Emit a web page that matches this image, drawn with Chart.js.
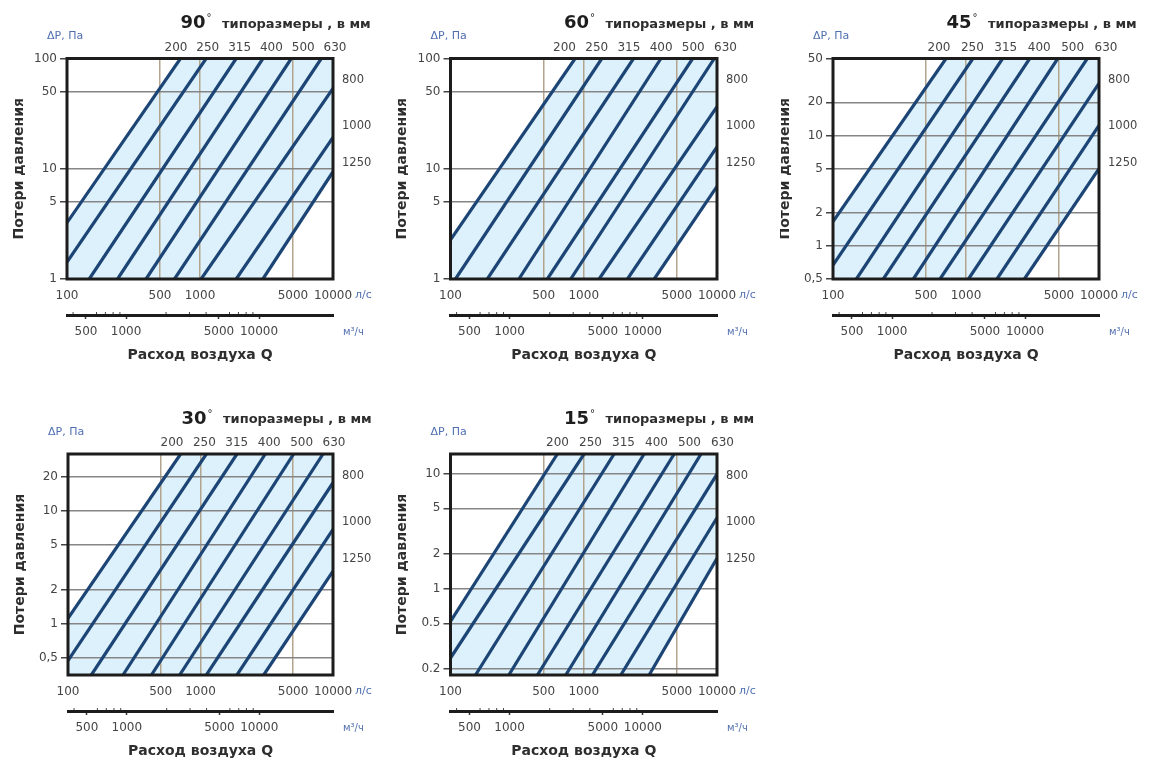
<!DOCTYPE html>
<html><head><meta charset="utf-8">
<script src="https://cdn.jsdelivr.net/npm/chart.js@4.4.0/dist/chart.umd.min.js"></script>
<style>
html,body{margin:0;padding:0;background:#fff;width:1158px;height:763px;overflow:hidden}
canvas{position:absolute}
</style></head><body>
<canvas id="c0"></canvas><canvas id="c1"></canvas><canvas id="c2"></canvas><canvas id="c3"></canvas><canvas id="c4"></canvas>
<script>
// ---------- DATA ----------
const angleLabels = ['90', '60', '45', '30', '15'];
const sizes = ['200', '250', '315', '400', '500', '630', '800', '1000', '1250'];
const headerText = 'типоразмеры , в мм';
const yUnit = 'ΔP, Па';
const yTitle = 'Потери давления';
const xTitle = 'Расход воздуха Q';
const xUnit = 'л/с';
const x2Unit = 'м³/ч';

const xRange = [100, 10000];          // l/s
const xTicks = [100, 500, 1000, 5000, 10000];
const m3hRange = [360, 36000];        // m3/h (same span as l/s axis)
const m3hTicks = [500, 1000, 5000, 10000];
const m3hMinorTicks = [400, 600, 700, 800, 900, 2000, 3000, 4000, 6000, 7000, 8000, 9000];

const yRange90 = [1, 100];
const yTicks90 = [1, 5, 10, 50, 100];
const yLabels90 = ['1', '5', '10', '50', '100'];
const yRange60 = [1, 100];
const yTicks60 = [1, 5, 10, 50, 100];
const yLabels60 = ['1', '5', '10', '50', '100'];
const yRange45 = [0.5, 50];
const yTicks45 = [0.5, 1, 2, 5, 10, 20, 50];
const yLabels45 = ['0,5', '1', '2', '5', '10', '20', '50'];
const yRange30 = [0.35, 31.6];
const yTicks30 = [0.5, 1, 2, 5, 10, 20];
const yLabels30 = ['0,5', '1', '2', '5', '10', '20'];
const yRange15 = [0.178, 14.8];
const yTicks15 = [0.2, 0.5, 1, 2, 5, 10];
const yLabels15 = ['0.2', '0.5', '1', '2', '5', '10'];

// line endpoints [Q l/s, dP Pa], one per size 200..1250
const p90Start = [[100,3.24],[100,1.42],[147,1],[240,1],[393,1],[643,1],[1020,1],[1871,1],[2972,1]];
const p90End   = [[713,100],[1112,100],[1871,100],[2972,100],[4853,100],[8166,100],[10000,53.5],[10000,19.2],[10000,9.4]];
const p60Start = [[100,2.26],[109,1],[189,1],[326,1],[533,1],[798,1],[1304,1],[2128,1],[3381,1]];
const p60End   = [[861,100],[1366,100],[2363,100],[3796,100],[6567,100],[9550,100],[10000,36.5],[10000,15.8],[10000,6.9]];
const p45Start = [[100,1.66],[100,0.67],[150,0.5],[239,0.5],[402,0.5],[638,0.5],[1044,0.5],[1709,0.5],[2748,0.5]];
const p45End   = [[708,50],[1127,50],[1884,50],[3013,50],[4897,50],[8166,50],[10000,29.7],[10000,12.4],[10000,5.0]];
const p30Start = [[100,1.11],[100,0.47],[150,0.35],[260,0.35],[426,0.35],[696,0.35],[1107,0.35],[1884,0.35],[2998,0.35]];
const p30End   = [[708,31.6],[1107,31.6],[1884,31.6],[3083,31.6],[5047,31.6],[8414,31.6],[10000,17.6],[10000,6.8],[10000,2.9]];
const p15Start = [[100,0.52],[100,0.25],[154,0.178],[274,0.178],[449,0.178],[733,0.178],[1161,0.178],[1897,0.178],[3097,0.178]];
const p15End   = [[634,14.8],[1005,14.8],[1690,14.8],[2838,14.8],[4773,14.8],[7586,14.8],[10000,9.9],[10000,4.13],[10000,1.84]];

// ---------- STYLE / LAYOUT ----------
const LINE = '#1c4474', FILL = '#dcf1fb', HGRID = '#858585', VGRID = '#b3a48e';
const TXT = '#454545', BLUE = '#4f6fb0', FRAME = '#1c1c1c';
const Y_W = 44, X_H = 36, X2_H = 40;
const layout = [
  {left:0,   top:0,   w:390, h:380, L:67,   R:333, T:58.5, B:279, topLab:[109,268]},
  {left:390, top:0,   w:390, h:380, L:60.5, R:327, T:58.5, B:279, topLab:[114,275]},
  {left:780, top:0,   w:378, h:380, L:53,   R:319, T:58.5, B:279, topLab:[106,273]},
  {left:0,   top:390, w:390, h:373, L:68,   R:333, T:64,   B:285, topLab:[104,266]},
  {left:390, top:390, w:390, h:373, L:60.5, R:327, T:64,   B:285, topLab:[107,272]}
];
const rightOff = [22, 68, 105];

const panels = [
  {angle:angleLabels[0], start:p90Start, end:p90End, yRange:yRange90, yTicks:yTicks90, yLabels:yLabels90},
  {angle:angleLabels[1], start:p60Start, end:p60End, yRange:yRange60, yTicks:yTicks60, yLabels:yLabels60},
  {angle:angleLabels[2], start:p45Start, end:p45End, yRange:yRange45, yTicks:yTicks45, yLabels:yLabels45},
  {angle:angleLabels[3], start:p30Start, end:p30End, yRange:yRange30, yTicks:yTicks30, yLabels:yLabels30},
  {angle:angleLabels[4], start:p15Start, end:p15End, yRange:yRange15, yTicks:yTicks15, yLabels:yLabels15}
];

Chart.defaults.font.family = '"DejaVu Sans", sans-serif';

const textPlugin = {
  id: 'texts',
  afterDraw(chart, args, o) {
    const ctx = chart.ctx, a = chart.chartArea;
    const L = a.left, R = a.right, T = a.top, B = a.bottom;
    ctx.save();
    ctx.strokeStyle = FRAME; ctx.lineWidth = 3;
    ctx.strokeRect(L, T, R - L, B - T);
    // minor ticks on the m3/h axis
    const x2 = chart.scales.x2;
    ctx.strokeStyle = '#444'; ctx.lineWidth = 1;
    m3hMinorTicks.forEach(v => {
      const px = x2.getPixelForValue(v);
      ctx.beginPath(); ctx.moveTo(px, x2.top - 1); ctx.lineTo(px, x2.top - 3); ctx.stroke();
    });
    ctx.textBaseline = 'middle';
    // title
    ctx.fillStyle = '#1e1e1e'; ctx.font = 'bold 18px "DejaVu Sans"'; ctx.textAlign = 'center';
    ctx.fillText(o.angle, L + 126, T - 35);
    const w = ctx.measureText(o.angle).width;
    ctx.font = '10px "DejaVu Sans"'; ctx.textAlign = 'left';
    ctx.fillText('°', L + 126 + w / 2 + 1, T - 40);
    ctx.font = 'bold 13px "DejaVu Sans"'; ctx.fillStyle = '#2e2e2e';
    ctx.fillText(headerText, L + 155, T - 34);
    // y unit
    ctx.font = '11px "DejaVu Sans"'; ctx.fillStyle = BLUE;
    ctx.fillText(yUnit, L - 20, T - 22);
    // size labels on top
    ctx.fillStyle = TXT; ctx.textAlign = 'center'; ctx.font = '12px "DejaVu Sans"';
    const top = sizes.slice(0, 6), right = sizes.slice(6);
    const [a0, a1] = o.topLab;
    top.forEach((s, i) => ctx.fillText(s, L + a0 + (a1 - a0) * i / (top.length - 1), T - 11));
    ctx.textAlign = 'left'; ctx.font = '11.5px "DejaVu Sans"';
    right.forEach((s, i) => ctx.fillText(s, R + 9, T + rightOff[i]));
    // units
    ctx.fillStyle = BLUE; ctx.font = '11px "DejaVu Sans"';
    ctx.fillText(xUnit, R + 22, B + 16);
    ctx.font = '10px "DejaVu Sans"';
    ctx.fillText(x2Unit, R + 10, B + 53);
    // axis titles
    ctx.fillStyle = '#2e2e2e'; ctx.font = 'bold 14px "DejaVu Sans"'; ctx.textAlign = 'center';
    ctx.fillText(xTitle, (L + R) / 2, B + 76);
    ctx.save(); ctx.translate(L - 48, (T + B) / 2); ctx.rotate(-Math.PI / 2);
    ctx.fillText(yTitle, 0, 0); ctx.restore();
    ctx.restore();
  }
};

function polygon(p) {
  const s = p.start, e = p.end, n = s.length - 1;
  return [
    {x: s[0][0], y: s[0][1]}, {x: e[0][0], y: e[0][1]},
    {x: xRange[1], y: p.yRange[1]},
    {x: e[n][0], y: e[n][1]}, {x: s[n][0], y: s[n][1]},
    {x: xRange[0], y: p.yRange[0]}
  ];
}

panels.forEach((p, k) => {
  const lay = layout[k];
  const cv = document.getElementById('c' + k);
  cv.width = lay.w; cv.height = lay.h;
  cv.style.left = lay.left + 'px'; cv.style.top = lay.top + 'px';
  const datasets = [{
    label: 'fill', data: polygon(p), fill: 'shape', backgroundColor: FILL,
    borderColor: 'rgba(0,0,0,0)', borderWidth: 0, pointRadius: 0, tension: 0
  }];
  p.start.forEach((s, i) => datasets.push({
    label: sizes[i],
    data: [{x: s[0], y: s[1]}, {x: p.end[i][0], y: p.end[i][1]}],
    borderColor: LINE, borderWidth: 3.2, pointRadius: 0, fill: false
  }));
  new Chart(cv, {
    type: 'line',
    data: {datasets},
    plugins: [textPlugin],
    options: {
      responsive: false, animation: false, events: [], devicePixelRatio: 1,
      layout: {padding: {left: lay.L - Y_W, right: lay.w - lay.R, top: lay.T, bottom: lay.h - lay.B - X_H - X2_H}},
      plugins: {
        legend: {display: false}, tooltip: {enabled: false},
        filler: {drawTime: 'beforeDraw'},
        texts: {angle: p.angle, topLab: lay.topLab}
      },
      scales: {
        x: {
          type: 'logarithmic', position: 'bottom', min: xRange[0], max: xRange[1], weight: 0,
          afterFit: s => { s.height = X_H; },
          afterBuildTicks: s => { s.ticks = xTicks.map(v => ({value: v})); },
          ticks: {callback: (v, i) => String(xTicks[i]), autoSkip: false, maxRotation: 0, padding: 10, color: TXT, font: {size: 12}},
          grid: {color: VGRID, lineWidth: 1.5, drawTicks: false},
          border: {display: false}
        },
        x2: {
          type: 'logarithmic', position: 'bottom', min: m3hRange[0], max: m3hRange[1], weight: 1,
          afterFit: s => { s.height = X2_H; },
          afterBuildTicks: s => { s.ticks = m3hTicks.map(v => ({value: v})); },
          ticks: {callback: (v, i) => String(m3hTicks[i]), autoSkip: false, maxRotation: 0, padding: 6, color: TXT, font: {size: 12}},
          grid: {drawOnChartArea: false, drawTicks: true, tickLength: 4, tickColor: '#333', tickWidth: 1.5},
          border: {display: true, width: 3, color: FRAME}
        },
        y: {
          type: 'logarithmic', position: 'left', min: p.yRange[0], max: p.yRange[1],
          afterFit: s => { s.width = Y_W; },
          afterBuildTicks: s => { s.ticks = p.yTicks.map(v => ({value: v})); },
          ticks: {callback: (v, i) => p.yLabels[i], padding: 3, color: TXT, font: {size: 12}},
          grid: {color: HGRID, lineWidth: 1.5, drawTicks: true, tickLength: 7, tickColor: '#444'},
          border: {display: false}
        }
      }
    }
  });
});
</script>
</body></html>
